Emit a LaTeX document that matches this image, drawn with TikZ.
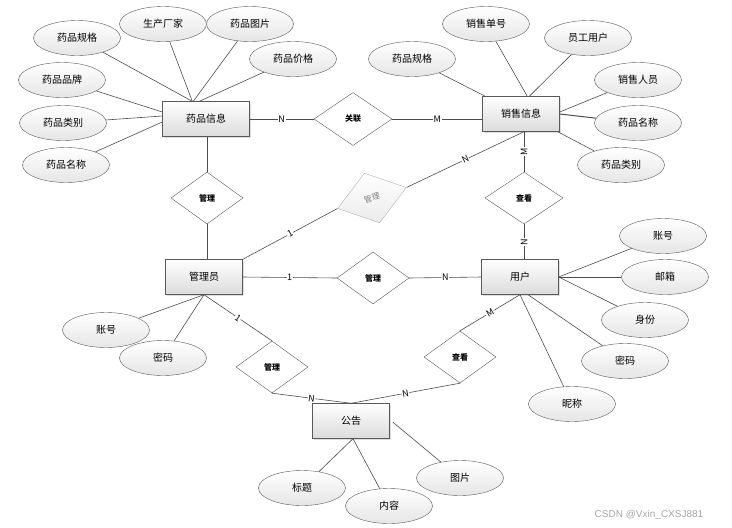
\documentclass[tikz,border=0pt]{standalone}
\usepackage{fontspec}
\setmainfont{Noto Sans CJK SC}
\newfontfamily\wmfont{Liberation Sans}
\usetikzlibrary{calc,positioning,shapes.geometric,shadows}
\tikzset{%
	entity/.style   = {draw=black!65, rectangle, minimum width=77pt, minimum height=35pt, top color=white, bottom color=black!14, font=\fontsize{10}{12}\selectfont, drop shadow={shadow xshift=1pt, shadow yshift=-1pt, opacity=0.25}}, % Entity
	attrib/.style   = {draw=black!65, ellipse, minimum width=87pt, minimum height=35pt, inner sep=0pt, top color=white, bottom color=black!10, font=\fontsize{10}{12}\selectfont}, % Attribute
	relation/.style = {draw=black!65, diamond, minimum width=72pt, minimum height=52pt, inner sep=0pt, fill=white, font=\fontsize{8}{9}\selectfont\bfseries}, % Relation
	card/.style     = {fill=white, inner sep=0.6pt, sloped, font=\fontsize{9}{10}\selectfont}, % Cardinality
	link/.style     = {draw=black!70, line width=0.6pt},
}

\begin{document}
\begin{tikzpicture}[x=1pt,y=-1pt]
	\useasboundingbox (0,0) rectangle (732,528);

	% entities
	\node[entity,minimum width=87pt] (drug) at (206,119) {药品信息};
	\node[entity] (sale) at (521,114) {销售信息};
	\node[entity] (admin) at (204,277) {管理员};
	\node[entity] (user) at (520,277) {用户};
	\node[entity] (notice) at (351,421) {公告};

	% relations
	\node[relation,minimum width=78pt,minimum height=53pt] (rlink) at (353,119) {关联};
	\node[relation] (rmanage1) at (207,198) {管理};
	\node[relation] (rmanage2) at (373,278) {管理};
	\node[relation] (rmanage3) at (272,367) {管理};
	\node[relation,minimum width=78pt] (rview1) at (524,198) {查看};
	\node[relation] (rview2) at (460,357) {查看};
	\node[relation,rotate=17,draw=black!30,text=black!50,top color=white,bottom color=black!8,font=\fontsize{8}{9}\selectfont] (rgray) at (372,198) {管理};

	% attributes
	\node[attrib] (d-spec) at (77,38) {药品规格};
	\node[attrib] (d-maker) at (163,24) {生产厂家};
	\node[attrib] (d-pic) at (250,24) {药品图片};
	\node[attrib] (d-price) at (293,59) {药品价格};
	\node[attrib] (d-brand) at (62,80) {药品品牌};
	\node[attrib] (d-type) at (63,123) {药品类别};
	\node[attrib] (d-name) at (66,165) {药品名称};

	\node[attrib] (s-no) at (486,24) {销售单号};
	\node[attrib] (s-staff) at (588,38) {员工用户};
	\node[attrib] (s-spec) at (412,59) {药品规格};
	\node[attrib] (s-seller) at (638,80) {销售人员};
	\node[attrib] (s-name) at (638,123) {药品名称};
	\node[attrib] (s-type) at (621,165) {药品类别};

	\node[attrib] (a-acc) at (106,330) {账号};
	\node[attrib] (a-pwd) at (163,358) {密码};

	\node[attrib] (u-acc) at (663,236) {账号};
	\node[attrib] (u-mail) at (665,277) {邮箱};
	\node[attrib] (u-role) at (645,320) {身份};
	\node[attrib] (u-pwd) at (625,361) {密码};
	\node[attrib] (u-nick) at (572,404) {昵称};

	\node[attrib] (n-title) at (302,488) {标题};
	\node[attrib] (n-body) at (389,506) {内容};
	\node[attrib] (n-pic) at (460,478) {图片};

	\node[font=\wmfont\fontsize{10}{12}\selectfont, text=black!35] (wm) at (649,515) {CSDN @Vxin\_CXSJ881};

	% attribute links
	\draw[link] (d-spec) -- ($(drug.north west)+(30,0)$);
	\draw[link] (d-maker) -- ($(drug.north west)+(30,0)$);
	\draw[link] (d-pic) -- ($(drug.north west)+(31,0)$);
	\draw[link] (d-price) -- ($(drug.north west)+(37,0)$);
	\draw[link] (d-brand) -- ($(drug.west)+(0,-7)$);
	\draw[link] (d-type) -- ($(drug.west)+(0,-3)$);
	\draw[link] (d-name) -- ($(drug.west)+(0,3)$);

	\draw[link] (s-spec) -- ($(sale.north west)+(3,0)$);
	\draw[link] (s-no) -- ($(sale.north west)+(45,0)$);
	\draw[link] (s-staff) -- ($(sale.north west)+(47,0)$);
	\draw[link] (s-seller) -- ($(sale.east)+(0,-2)$);
	\draw[link,line width=1pt] (s-name) -- (sale.east);
	\draw[link] (s-type) -- ($(sale.south east)+(-2,0)$);

	\draw[link] (a-acc) -- (admin.south);
	\draw[link] (a-pwd) -- (admin.south);

	\draw[link] (u-acc) -- (user.east);
	\draw[link] (u-mail) -- (user.east);
	\draw[link] (u-role) -- (user.east);
	\draw[link] (u-pwd) -- ($(user.south)+(8,0)$);
	\draw[link] (u-nick) -- (user.south);

	\draw[link] (n-title) -- ($(notice.south)+(2,0)$);
	\draw[link] (n-body) -- ($(notice.south)+(2,0)$);
	\draw[link] (n-pic) -- ($(notice.east)+(3,1)$);

	% relation links
	\draw[link] (drug.east) -- node[card] {N} (rlink.west);
	\draw[link] (rlink.east) -- node[card] {M} (rlink.east -| sale.west);
	\draw[link] (rmanage1.north) -- (rmanage1.north |- drug.south);
	\draw[link] (rmanage1.south) -- (rmanage1.south |- admin.north);
	\draw[link] (admin.east) -- node[card] {1} (rmanage2.west);
	\draw[link] (rmanage2.east) -- node[card] {N} (user.west);
	\draw[link] (admin.north east) -- node[card] {1} (rgray.west);
	\draw[link] (rgray.east) -- node[card] {N} ($(sale.south)+(3,0)$);
	\draw[link] (rview1.north) -- node[card] {M} (rview1.north |- sale.south);
	\draw[link] (rview1.south |- user.north) -- node[card] {N} (rview1.south);
	\draw[link] (admin.south) -- node[card] {1} (rmanage3.north);
	\draw[link] (rmanage3.south) -- node[card] {N} (notice.north);
	\draw[link] (rview2.south) -- node[card] {N} (notice.north);
	\draw[link] (rview2.north) -- node[card] {M} (user.south);
\end{tikzpicture}
\end{document}
